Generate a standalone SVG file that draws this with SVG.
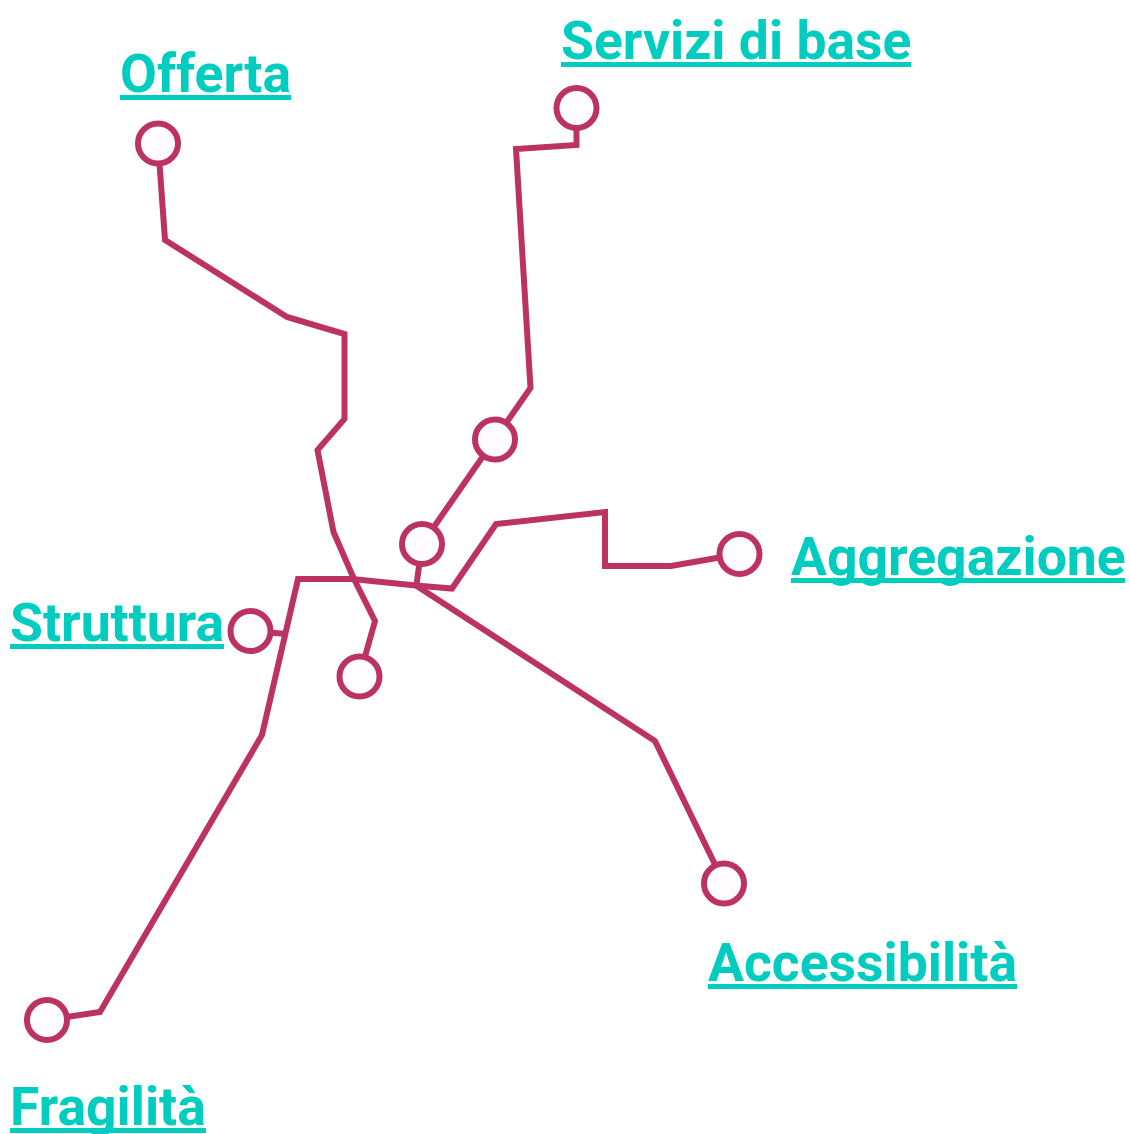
<svg xmlns="http://www.w3.org/2000/svg" width="1130" height="1134" viewBox="0 0 1130 1134">
<style>
.c{fill:none;stroke:#bb3263;stroke-width:6;stroke-linejoin:miter}
.n{fill:#fefcfe;stroke:#bb3263;stroke-width:6}
.t{font-family:Roboto,sans-serif;font-weight:700;font-size:53.5px;fill:#00cdbf}
.u{fill:#00cdbf}
</style>
<rect width="1130" height="1134" fill="#fff"/>
<g id="connectors">
<path class="c" d="M158 143L165 240L287 317L344.500 334V419L317.500 450L333.500 532L354 579L375 621L359.500 676"/>
<path class="c" d="M576.500 108V145L516 149L530.500 388L422 544L416.500 585"/>
<path class="c" d="M739.500 554L671 566H605V512L496 524L452 588.500L416 585.500L352 579H298L262 735L100 1012L47 1020"/>
<path class="c" d="M416 585.500L655 741L724 883"/>
<path class="c" d="M250.500 631L287 634"/>
</g>
<g id="node-offerta"><circle class="n" cx="158" cy="143.500" r="20"/></g>
<g id="node-servizi"><circle class="n" cx="576.500" cy="108" r="20"/></g>
<g id="node-servizi2"><circle class="n" cx="495" cy="439.500" r="20"/></g>
<g id="node-centro"><circle class="n" cx="422" cy="544" r="20"/></g>
<g id="node-aggregazione"><circle class="n" cx="739.500" cy="554" r="20"/></g>
<g id="node-struttura"><circle class="n" cx="250.500" cy="631" r="20"/></g>
<g id="node-offerta2"><circle class="n" cx="359.500" cy="676.500" r="20"/></g>
<g id="node-accessibilita"><circle class="n" cx="724" cy="883.500" r="20"/></g>
<g id="node-fragilita"><circle class="n" cx="47" cy="1020" r="20"/></g>
<g id="labels">
<rect class="u" x="120" y="95" width="171" height="5"/><text class="t" x="120" y="92">Offerta</text>
<rect class="u" x="561" y="62" width="350" height="5"/><text class="t" x="561" y="59">Servizi di base</text>
<rect class="u" x="791" y="578" width="334" height="5"/><text class="t" x="791" y="575">Aggregazione</text>
<rect class="u" x="10" y="644" width="214" height="5"/><text class="t" x="10" y="641">Struttura</text>
<rect class="u" x="708" y="984" width="309" height="5"/><text class="t" x="708" y="981">Accessibilità</text>
<rect class="u" x="10" y="1128" width="196" height="5"/><text class="t" x="10" y="1125">Fragilità</text>
</g>
</svg>
